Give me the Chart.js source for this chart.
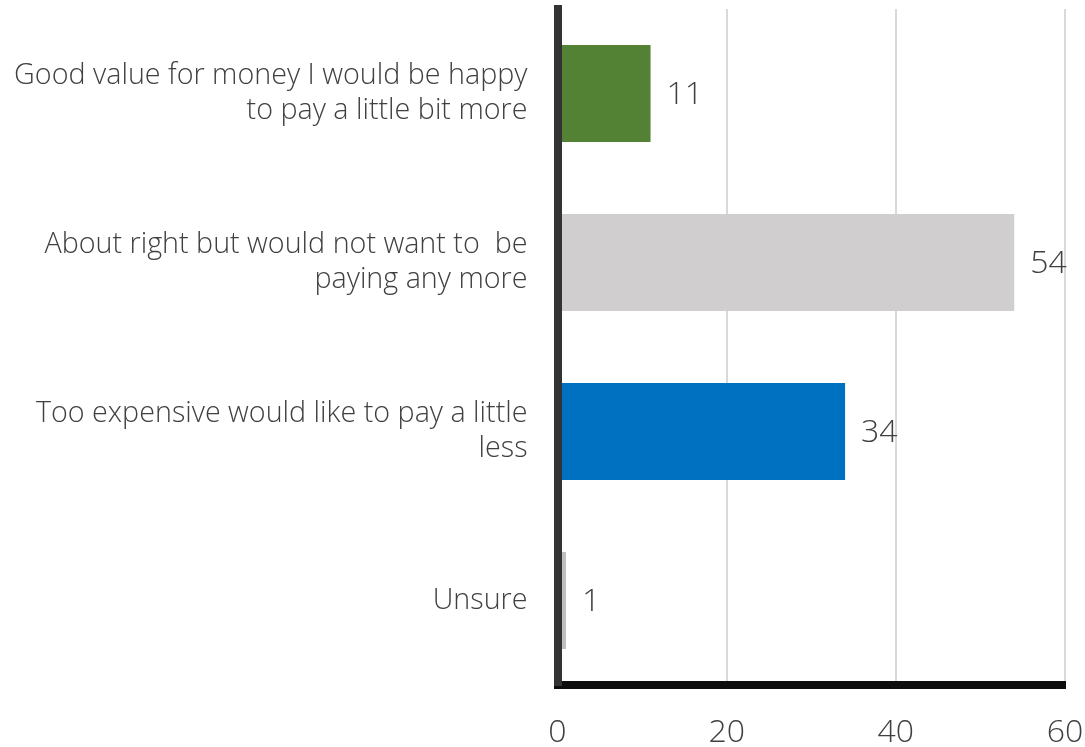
<!DOCTYPE html>
<html>
<head>
<meta charset="utf-8">
<script src="https://cdn.jsdelivr.net/npm/chart.js@4"></script>
<style>
  html, body { margin: 0; padding: 0; background: #ffffff; }
  #wrap { width: 1085px; height: 747px; position: relative; }
</style>
</head>
<body>
<div id="wrap"><canvas id="c"></canvas></div>
<script>
// Survey answers on value for money (percent of respondents)
const categories = [
  ["Good value for money I would be happy", "to pay a little bit more"],
  ["About right but would not want to  be", "paying any more"],
  ["Too expensive would like to pay a little", "less"],
  ["Unsure"]
];
const values = [11, 54, 34, 1];
const barColors = ["#548235", "#d0cece", "#0070c0", "#bfbfbf"];
const xTicks = [0, 20, 40, 60];

const textColor = "#404040";
const fontFamily = "'Open Sans', 'Liberation Sans', sans-serif";

// Writes each bar's value just past its end
const valueLabels = {
  id: "valueLabels",
  afterDatasetsDraw(chart) {
    const ctx = chart.ctx;
    const meta = chart.getDatasetMeta(0);
    ctx.save();
    ctx.font = "300 32px " + fontFamily;
    ctx.fillStyle = textColor;
    ctx.textAlign = "left";
    ctx.textBaseline = "middle";
    meta.data.forEach((bar, i) => {
      ctx.fillText(String(values[i]), bar.x + 16, bar.y + 1);
    });
    ctx.restore();
  }
};

// Let the plot area run to the layout padding instead of reserving room for label overhang
function noOverhang(scale) {
  scale.paddingTop = 0;
  scale.paddingBottom = 0;
  scale.paddingLeft = 0;
  scale.paddingRight = 0;
}

new Chart(document.getElementById("c"), {
  type: "bar",
  data: {
    labels: categories,
    datasets: [{
      data: values,
      backgroundColor: barColors,
      borderWidth: 0,
      barPercentage: 0.574,
      categoryPercentage: 1.0
    }]
  },
  options: {
    indexAxis: "y",
    responsive: true,
    maintainAspectRatio: false,
    animation: false,
    layout: { padding: { top: 9, right: 20, left: 0, bottom: 0 } },
    plugins: {
      legend: { display: false },
      tooltip: { enabled: false }
    },
    scales: {
      x: {
        min: 0,
        max: 60,
        afterBuildTicks(scale) {
          scale.ticks = xTicks.map(v => ({ value: v }));
        },
        afterFit(scale) { scale.height = 62; noOverhang(scale); },
        grid: {
          color: "#d9d9d9",
          lineWidth: 2,
          drawTicks: false
        },
        border: { display: true, color: "#0d0d0d", width: 8, z: 1 },
        ticks: {
          color: textColor,
          padding: 29,
          font: { family: fontFamily, size: 32, weight: 300 }
        }
      },
      y: {
        afterFit(scale) { scale.width = 557.5; noOverhang(scale); },
        grid: { display: false, drawTicks: false },
        // category axis line sits over the bar bases
        border: { display: true, color: "#333333", width: 8, z: 1 },
        ticks: {
          color: textColor,
          padding: 30,
          font: { family: fontFamily, size: 28.7, weight: 300, lineHeight: 1.22 }
        }
      }
    }
  },
  plugins: [valueLabels]
});
</script>
</body>
</html>
